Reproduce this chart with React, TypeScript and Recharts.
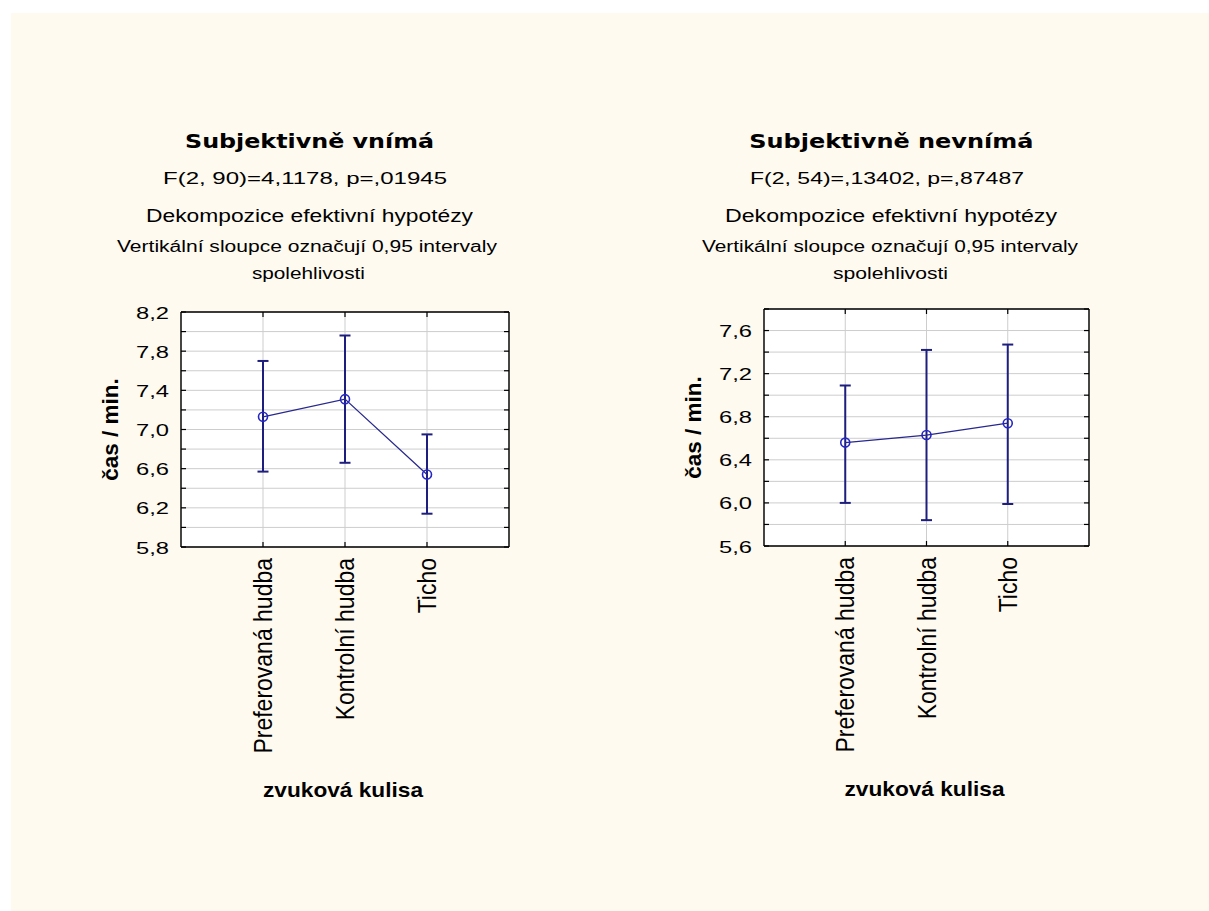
import React from 'react';
import { LineChart, Line, XAxis, YAxis, CartesianGrid, ErrorBar, Label } from 'recharts';

// ---------- data ----------
const categories = ['Preferovaná hudba', 'Kontrolní hudba', 'Ticho'];
const categoryPositions = [1, 2, 3];
const xDomain = [0, 4];

const leftMeans = [7.13, 7.31, 6.54];
const leftLower = [6.57, 6.66, 6.14];
const leftUpper = [7.7, 7.96, 6.95];

const rightMeans = [6.56, 6.63, 6.74];
const rightLower = [6.0, 5.84, 5.99];
const rightUpper = [7.09, 7.42, 7.47];

const leftYTicks = [5.8, 6.0, 6.2, 6.4, 6.6, 6.8, 7.0, 7.2, 7.4, 7.6, 7.8, 8.0, 8.2];
const rightYTicks = [5.6, 5.8, 6.0, 6.2, 6.4, 6.6, 6.8, 7.0, 7.2, 7.4, 7.6, 7.8];
const leftYDomain = [5.8, 8.2];
const rightYDomain = [5.6, 7.8];

const leftTitleLines = [
  'Subjektivně vnímá',
  'F(2, 90)=4,1178, p=,01945',
  'Dekompozice efektivní hypotézy',
  'Vertikální sloupce označují 0,95 intervaly',
  'spolehlivosti',
];
const rightTitleLines = [
  'Subjektivně nevnímá',
  'F(2, 54)=,13402, p=,87487',
  'Dekompozice efektivní hypotézy',
  'Vertikální sloupce označují 0,95 intervaly',
  'spolehlivosti',
];
const xAxisTitle = 'zvuková kulisa';
const yAxisTitle = 'čas / min.';

// ---------- styles ----------
const REG = "'Liberation Sans', Arial, sans-serif";
const BOLDF = "'DejaVu Sans', Verdana, sans-serif";
const LINE_COLOR = '#28288f';
const ERR_COLOR = '#1e1e7e';
const DOT_COLOR = '#2626c4';
const GRID_COLOR = '#cdcdcd';

const titleLineStyle = [
  { y: 148.3, size: 19, family: BOLDF, weight: 'bold' },
  { y: 184, size: 17, family: REG, weight: 'normal' },
  { y: 221.5, size: 18, family: REG, weight: 'normal' },
  { y: 252.3, size: 16, family: REG, weight: 'normal' },
  { y: 278.6, size: 16, family: REG, weight: 'normal' },
];
const leftTitleLayout = { centers: [309.5, 305, 309.5, 307, 308.4], widths: [249, 284, 327, 380, 113] };
const rightTitleLayout = { centers: [891.3, 887, 891, 890, 890.5], widths: [284, 274, 332, 376, 115] };

const makeData = (means: number[], lower: number[], upper: number[]) =>
  categories.map((name, i) => ({
    pos: categoryPositions[i],
    name,
    mean: means[i],
    err: [means[i] - lower[i], upper[i] - means[i]],
  }));

const fmt = (v: number) => v.toFixed(1).replace('.', ',');

const makeYTick = (ticks: number[]) => {
  const labelled = ticks.filter((_, i) => i % 2 === 0);
  return (props: any) => {
    const { x, y, payload } = props;
    const show = labelled.some((v) => Math.abs(v - payload.value) < 1e-6);
    if (!show) return <g />;
    return (
      <text
        x={x - 33}
        y={y + 6.5}
        fontFamily={REG}
        fontSize={17}
        fill="#000"
        textLength={33}
        lengthAdjust="spacingAndGlyphs"
      >
        {fmt(payload.value)}
      </text>
    );
  };
};

const EmptyTick = () => <g />;

const XTick = (props: any) => {
  const { x, y, payload } = props;
  const i = categoryPositions.indexOf(payload.value);
  return (
    <g transform={`translate(${x + 9},${y}) rotate(-90) scale(1,1.12)`}>
      <text x={0} y={0} textAnchor="end" fontFamily={REG} fontSize={23} fill="#000">
        {i >= 0 ? categories[i] : ''}
      </text>
    </g>
  );
};

const YTitle = (props: any) => {
  const vb = props.viewBox || { x: 0, y: 0, width: 121, height: 235 };
  const x = vb.x + vb.width - 62.6;
  const y = vb.y + vb.height / 2;
  return (
    <text
      transform={`translate(${x},${y}) rotate(-90)`}
      textAnchor="middle"
      fontFamily={REG}
      fontWeight="bold"
      fontSize={22.5}
      fill="#000"
    >
      {yAxisTitle}
    </text>
  );
};

const XTitle = (props: any) => {
  const vb = props.viewBox || { x: 0, y: 0, width: 328, height: 283 };
  const cx = vb.x + vb.width / 2 - 2;
  const y = vb.y + 250;
  return (
    <text
      x={cx - 80}
      y={y}
      fontFamily={REG}
      fontWeight="bold"
      fontSize={21}
      fill="#000"
      textLength={160}
      lengthAdjust="spacingAndGlyphs"
    >
      {xAxisTitle}
    </text>
  );
};

type PanelProps = {
  data: any[];
  yDomain: number[];
  yTicks: number[];
  left: number;
  top: number;
  width: number;
  height: number;
  marginRight: number;
  xAxisHeight: number;
};

const tickStroke = { stroke: '#000', strokeWidth: 1.2 };
const borderStroke = { stroke: '#000', strokeWidth: 1.4 };

const Panel = ({ data, yDomain, yTicks, left, top, width, height, marginRight, xAxisHeight }: PanelProps) => {
  const YTick = makeYTick(yTicks);
  return (
    <div style={{ position: 'absolute', left, top, width, height }}>
      <LineChart width={width} height={height} data={data} margin={{ top: 22, right: marginRight, bottom: 0, left: 0 }}>
        <CartesianGrid xAxisId="b" yAxisId="l" stroke={GRID_COLOR} fill="#ffffff" strokeWidth={1} />
        <XAxis
          xAxisId="b"
          type="number"
          dataKey="pos"
          domain={xDomain}
          ticks={categoryPositions}
          interval={0}
          height={xAxisHeight}
          axisLine={borderStroke}
          tickLine={false}
          tickSize={0}
          tickMargin={11}
          tick={XTick}
        >
          <Label content={XTitle} />
        </XAxis>
        <XAxis
          xAxisId="b2"
          type="number"
          dataKey="pos"
          domain={xDomain}
          ticks={categoryPositions}
          interval={0}
          orientation="bottom"
          mirror
          axisLine={false}
          tickLine={tickStroke}
          tickSize={5}
          tick={EmptyTick}
        />
        <XAxis
          xAxisId="t"
          type="number"
          dataKey="pos"
          domain={xDomain}
          ticks={categoryPositions}
          interval={0}
          orientation="top"
          mirror
          axisLine={borderStroke}
          tickLine={tickStroke}
          tickSize={5}
          tick={EmptyTick}
        />
        <YAxis
          yAxisId="l"
          type="number"
          domain={yDomain}
          ticks={yTicks}
          interval={0}
          width={121}
          axisLine={borderStroke}
          tickLine={false}
          tickSize={0}
          tickMargin={12}
          tick={YTick}
          allowDataOverflow
        >
          <Label content={YTitle} />
        </YAxis>
        <YAxis
          yAxisId="l2"
          type="number"
          domain={yDomain}
          ticks={yTicks}
          interval={0}
          orientation="left"
          mirror
          width={10}
          axisLine={false}
          tickLine={tickStroke}
          tickSize={5}
          tick={EmptyTick}
          allowDataOverflow
        />
        <YAxis
          yAxisId="r"
          type="number"
          domain={yDomain}
          ticks={yTicks}
          interval={0}
          orientation="right"
          mirror
          width={10}
          axisLine={borderStroke}
          tickLine={tickStroke}
          tickSize={5}
          tick={EmptyTick}
          allowDataOverflow
        />
        <Line
          xAxisId="b"
          yAxisId="l"
          type="linear"
          dataKey="mean"
          stroke={LINE_COLOR}
          strokeWidth={1.3}
          isAnimationActive={false}
          dot={{ r: 4.5, stroke: DOT_COLOR, strokeWidth: 1.6, fill: 'none' }}
          activeDot={false}
        >
          <ErrorBar dataKey="err" direction="y" width={5.5} stroke={ERR_COLOR} strokeWidth={2} />
        </Line>
      </LineChart>
    </div>
  );
};

const Titles = ({ lines, layout }: { lines: string[]; layout: { centers: number[]; widths: number[] } }) => (
  <>
    {lines.map((t, i) => {
      const st = titleLineStyle[i];
      const w = layout.widths[i];
      return (
        <text
          key={i}
          x={layout.centers[i] - w / 2}
          y={st.y}
          fontFamily={st.family}
          fontWeight={st.weight}
          fontSize={st.size}
          fill="#000"
          textLength={w}
          lengthAdjust="spacingAndGlyphs"
        >
          {t}
        </text>
      );
    })}
  </>
);

export default function App() {
  const leftData = makeData(leftMeans, leftLower, leftUpper);
  const rightData = makeData(rightMeans, rightLower, rightUpper);
  return (
    <div style={{ position: 'absolute', left: 0, top: 0, width: 1209, height: 911, background: '#ffffff', overflow: 'hidden' }}>
      <div style={{ position: 'absolute', left: 11, top: 13, width: 1198, height: 898, background: '#fffaef' }} />
      <svg width={1209} height={300} style={{ position: 'absolute', left: 0, top: 0 }}>
        <Titles lines={leftTitleLines} layout={leftTitleLayout} />
        <Titles lines={rightTitleLines} layout={rightTitleLayout} />
      </svg>
      <Panel
        data={leftData}
        yDomain={leftYDomain}
        yTicks={leftYTicks}
        left={60}
        top={290}
        width={480}
        height={540}
        marginRight={31}
        xAxisHeight={283}
      />
      <Panel
        data={rightData}
        yDomain={rightYDomain}
        yTicks={rightYTicks}
        left={643}
        top={287}
        width={480}
        height={540}
        marginRight={34}
        xAxisHeight={281}
      />
    </div>
  );
}
